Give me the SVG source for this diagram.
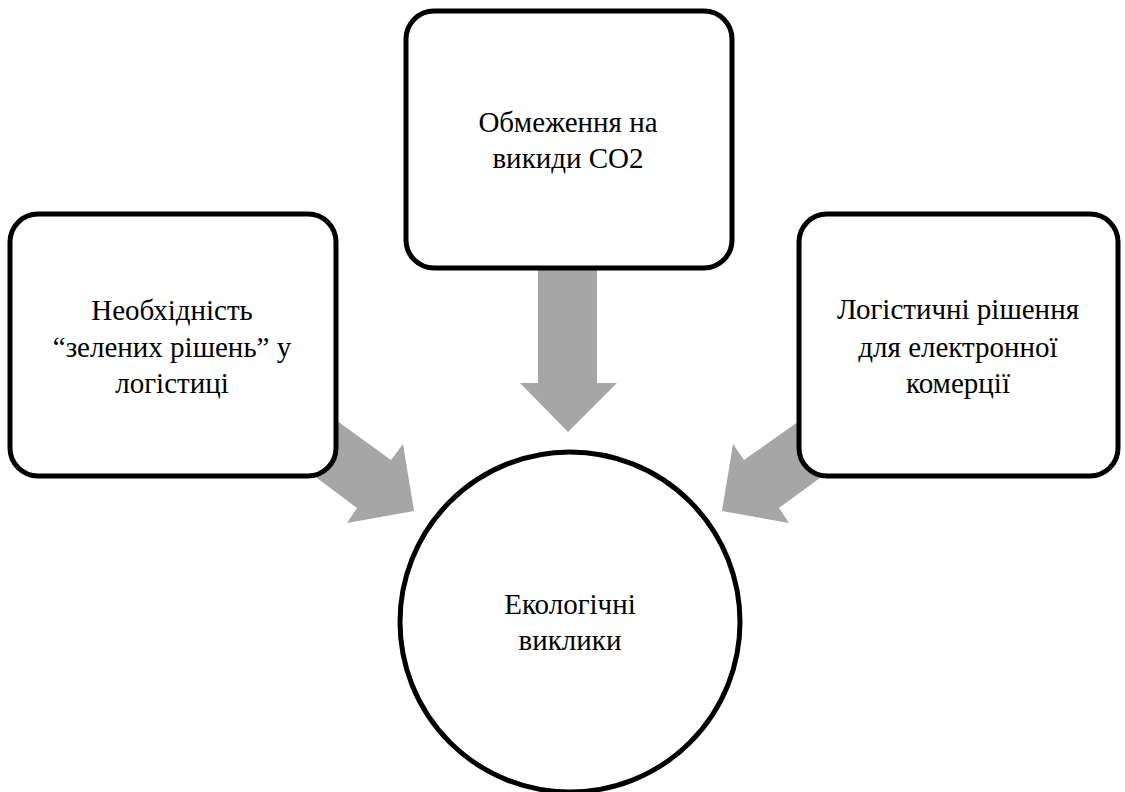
<svg xmlns="http://www.w3.org/2000/svg" width="1125" height="792" viewBox="0 0 1125 792">
<defs>
<path id="arrow-down" d="M538,250 L597,250 L597,383 L617,383 L568,432 L520,383 L538,383 Z"/>
</defs>
<rect width="1125" height="792" fill="#fff"/>
<g id="connectors" fill="#a6a6a6">
<polygon points="307,399 391,460 403,444 414,511 347,523 357,508 281,451"/>
<polygon points="829,400 744,460 733,444 722,511 789,523 779,508 854,453"/>
<use href="#arrow-down"/>
</g>
<g id="node-top">
<rect x="406" y="11" width="326" height="257" rx="28" fill="#fff" stroke="#000" stroke-width="5"/>
<text font-family="Liberation Serif" font-size="29" text-anchor="middle" x="568" y="132">Обмеження на</text>
<text font-family="Liberation Serif" font-size="29" text-anchor="middle" x="568" y="168">викиди CO2</text>
</g>
<g id="node-left">
<rect x="10" y="214" width="326" height="262" rx="28" fill="#fff" stroke="#000" stroke-width="5"/>
<text font-family="Liberation Serif" font-size="29" text-anchor="middle" x="172" y="320">Необхідність</text>
<text font-family="Liberation Serif" font-size="29" text-anchor="middle" x="172" y="357">“зелених рішень” у</text>
<text font-family="Liberation Serif" font-size="29" text-anchor="middle" x="172" y="393">логістиці</text>
</g>
<g id="node-right">
<rect x="799" y="214" width="319" height="262" rx="28" fill="#fff" stroke="#000" stroke-width="5"/>
<text font-family="Liberation Serif" font-size="29" text-anchor="middle" x="958" y="319">Логістичні рішення</text>
<text font-family="Liberation Serif" font-size="29" text-anchor="middle" x="958" y="357">для електронної</text>
<text font-family="Liberation Serif" font-size="29" text-anchor="middle" x="958" y="393">комерції</text>
</g>
<g id="node-center">
<circle cx="570" cy="622" r="170" fill="#fff" stroke="#000" stroke-width="5"/>
<text font-family="Liberation Serif" font-size="29" text-anchor="middle" x="570" y="614">Екологічні</text>
<text font-family="Liberation Serif" font-size="29" text-anchor="middle" x="570" y="650">виклики</text>
</g>
</svg>
